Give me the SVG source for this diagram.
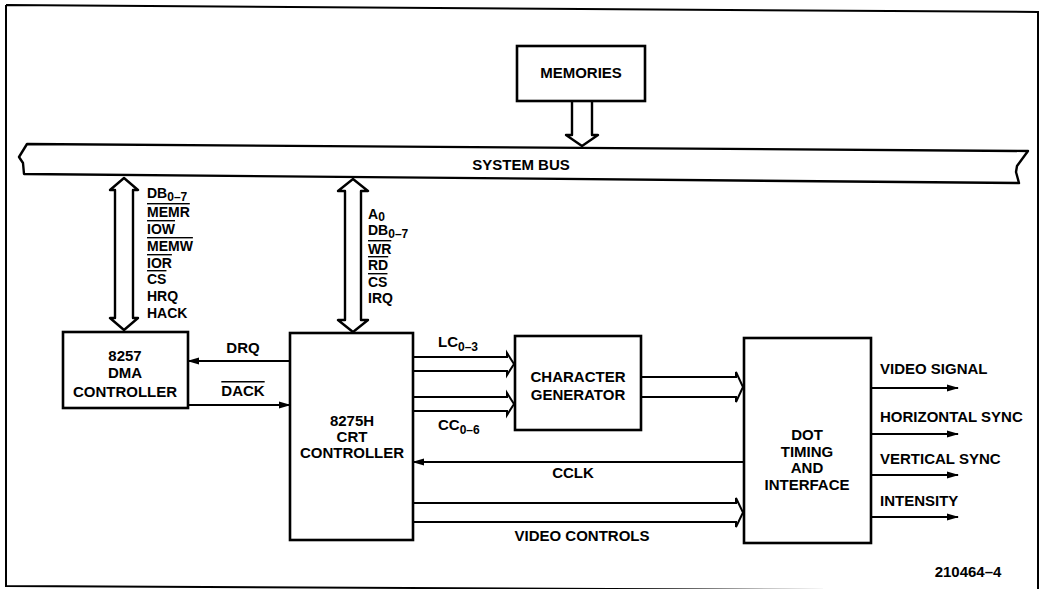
<svg xmlns="http://www.w3.org/2000/svg" width="1042" height="589" viewBox="0 0 1042 589">
<defs>
<marker id="ah" markerUnits="userSpaceOnUse" markerWidth="12" markerHeight="8" refX="11" refY="4" orient="auto">
<path d="M0,0.5 L12,4 L0,7.5 z" fill="#000"/>
</marker>
<style>
text{font-family:"Liberation Sans",Arial,sans-serif;font-weight:bold;font-size:15px;fill:#000}
.c{text-anchor:middle}
.s{font-size:14px}
.sub{font-size:12px}
.ol{text-decoration:overline}
.box{fill:#fff;stroke:#000;stroke-width:2.6}
.bus{fill:#fff;stroke:#000;stroke-width:2.4;stroke-linejoin:round}
.ln{fill:none;stroke:#000;stroke-width:2}
</style>
</defs>
<rect width="1042" height="589" fill="#fff"/>
<path d="M6,5 L1038,12 L1038,592 M6,5 L6,586 L1037,591" fill="none" stroke="#000" stroke-width="2"/>

<g id="connectors">
<path class="bus" d="M572,101 V135 H566 L582,146 L598,135 H592 V101"/>
<path class="bus" d="M124,178 L138,190 H133 V318 H138 L124,330 L110,318 H115 V190 H110 Z"/>
<path class="bus" d="M353,179 L368,191 H361 V320 H368 L353,332 L338,320 H345 V191 H338 Z"/>
<path class="ln" d="M413,357 H507 V353 L514,364 L507,375 V371 H413"/>
<path class="ln" d="M413,397 H507 V393 L514,404 L507,415 V411 H413"/>
<path class="ln" d="M641,377 H736 V372 L743,387 L736,402 V397 H641"/>
<path class="ln" d="M413,503 H736 V498 L743,512.5 L736,527 V522 H413"/>
<line class="ln" x1="290" y1="361" x2="188" y2="361" marker-end="url(#ah)"/>
<line class="ln" x1="188" y1="405" x2="290" y2="405" marker-end="url(#ah)"/>
<line class="ln" x1="744" y1="462" x2="413" y2="462" marker-end="url(#ah)"/>
<line class="ln" x1="871" y1="388" x2="958" y2="388" marker-end="url(#ah)"/>
<line class="ln" x1="871" y1="434" x2="958" y2="434" marker-end="url(#ah)"/>
<line class="ln" x1="871" y1="475" x2="958" y2="475" marker-end="url(#ah)"/>
<line class="ln" x1="871" y1="517" x2="958" y2="517" marker-end="url(#ah)"/>
<text class="s" x="147" y="198">DB<tspan class="sub" dy="3">0–7</tspan></text>
<text class="s ol" x="147" y="217">MEMR</text>
<text class="s ol" x="147" y="234">IOW</text>
<text class="s ol" x="147" y="251">MEMW</text>
<text class="s ol" x="147" y="268">IOR</text>
<text class="s ol" x="147" y="284">CS</text>
<text class="s" x="147" y="301">HRQ</text>
<text class="s" x="147" y="318">HACK</text>
<text class="s" x="368" y="219">A<tspan class="sub" dy="2">0</tspan></text>
<text class="s" x="368" y="235">DB<tspan class="sub" dy="3">0–7</tspan></text>
<text class="s ol" x="368" y="254">WR</text>
<text class="s ol" x="368" y="270">RD</text>
<text class="s ol" x="368" y="287">CS</text>
<text class="s" x="368" y="303">IRQ</text>
<text class="c" x="243" y="353">DRQ</text>
<text class="c ol" x="243" y="396">DACK</text>
<text x="438" y="347">LC<tspan class="sub" dy="4">0–3</tspan></text>
<text x="438" y="430">CC<tspan class="sub" dy="4">0–6</tspan></text>
<text class="c" x="573" y="478">CCLK</text>
<text class="c" x="582" y="541">VIDEO CONTROLS</text>
<text x="880" y="374">VIDEO SIGNAL</text>
<text x="880" y="422">HORIZONTAL SYNC</text>
<text x="880" y="464">VERTICAL SYNC</text>
<text x="880" y="506">INTENSITY</text>
</g>

<g id="system-bus">
<path class="bus" d="M27,144 L1028,151 L1017,166 L1016,172 L1019,183 L24,174 L23,163 L19,157 Z"/>
<text class="c" x="521" y="170">SYSTEM BUS</text>
</g>

<g id="memories">
<rect class="box" x="517" y="46" width="128" height="55"/>
<text class="c" x="581" y="78">MEMORIES</text>
</g>

<g id="dma">
<rect class="box" x="63" y="332" width="125" height="76"/>
<text class="c" x="125" y="361">8257</text>
<text class="c" x="125" y="378">DMA</text>
<text class="c" x="125" y="397">CONTROLLER</text>
</g>

<g id="crt">
<rect class="box" x="290" y="333" width="123" height="207"/>
<text class="c" x="352" y="426">8275H</text>
<text class="c" x="352" y="442">CRT</text>
<text class="c" x="352" y="458">CONTROLLER</text>
</g>

<g id="chargen">
<rect class="box" x="515" y="336" width="126" height="94"/>
<text class="c" x="578" y="382">CHARACTER</text>
<text class="c" x="578" y="400">GENERATOR</text>
</g>

<g id="dot">
<rect class="box" x="744" y="338" width="127" height="205"/>
<text class="c" x="807" y="440">DOT</text>
<text class="c" x="807" y="457">TIMING</text>
<text class="c" x="807" y="473">AND</text>
<text class="c" x="807" y="490">INTERFACE</text>
</g>

<text class="c" x="968" y="577">210464–4</text>
</svg>
